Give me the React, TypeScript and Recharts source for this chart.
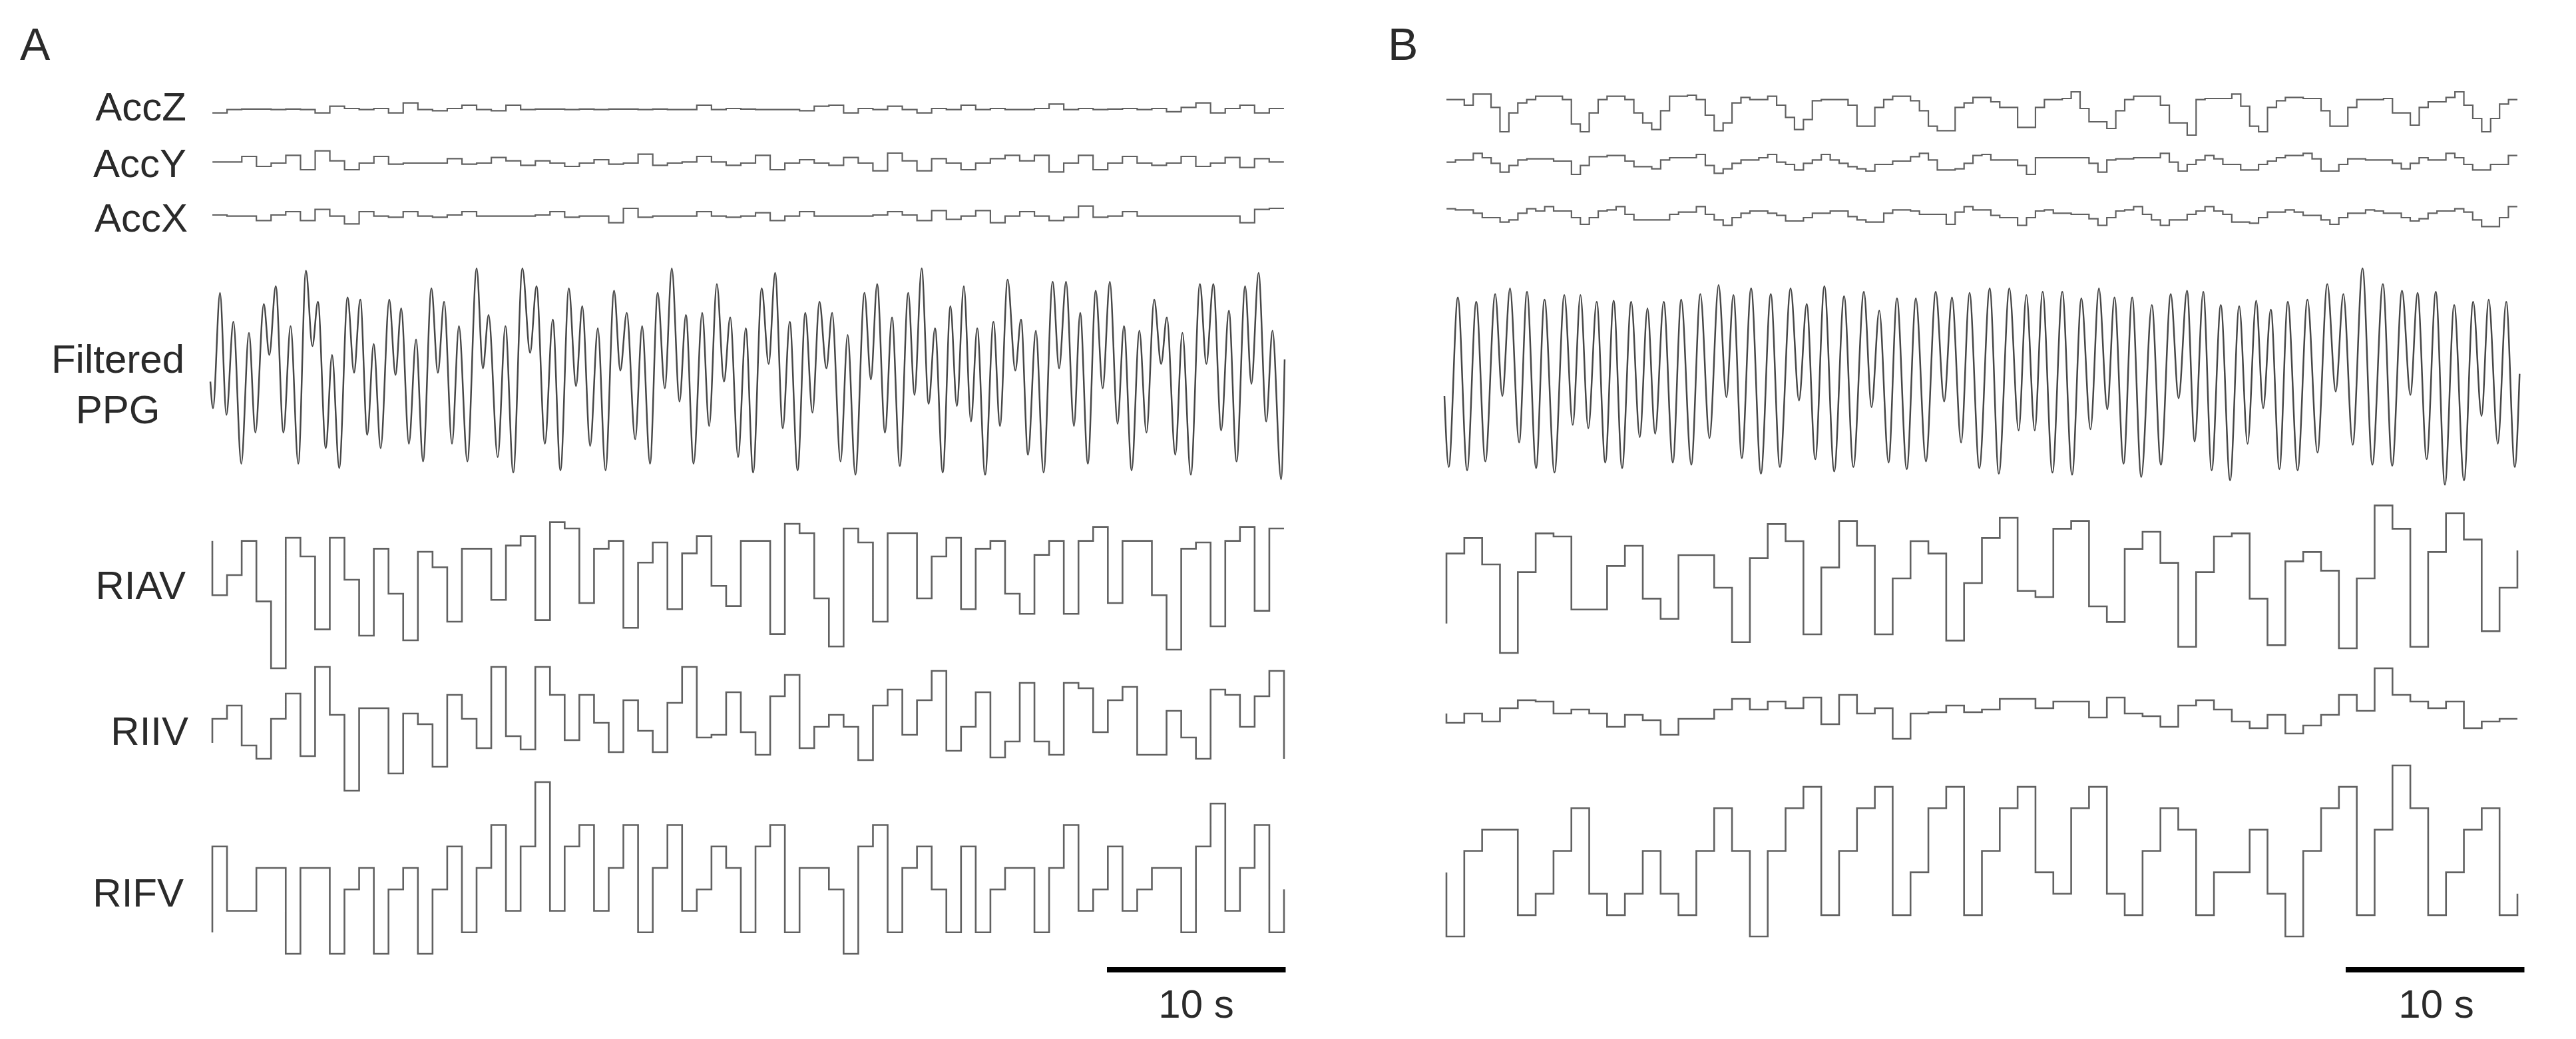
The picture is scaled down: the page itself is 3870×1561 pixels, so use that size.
import { LineChart, Line, XAxis, YAxis } from 'recharts';

// ---- panel A (73 beat-cells, ~0.82 s each) ----
const accZA = [-3, 0, 0.5, 0.5, 0, 0.5, 0, -3, 3, 1, 0, 1, -3, 6, 0, -1, 1, 4, 0, -1, 4, 0, 0.5, 0.5, 0, 0.5, 0, 0.5, 0.5, 0, 0.5, 0, 0, 4, 0, 1, 0.5, 0, 0, 0, -1, 3, 4, -3, 1, 0, 3, 0, -3, 1, 0, 4, 0, 1, 0, 0, 1, 5, 0, 1, 0, 0.5, 1, 0, 1, -2, 2, 6, -3, 1, 4, -3, 1];
const accYA = [0.5, 0.5, 3, -1.5, 0, 3.5, -3, 5.5, 1, -3, 0, 3, -0.5, 0, 0, 0, 2, -0.5, 0, 2.5, 1, -1, 1, 0, -1.5, 0, 1.5, -0.5, 0, 4, -1, 0, 0.5, 3, 0.5, -1, 0, 3.5, -3, 0, 1.5, 0, -1, 2.5, 0, -3.5, 4.5, 1, -3.5, 2, 0, -3, 0, 2, 3.5, 1, 3.5, -4, 0, 3.5, -3, 0, 3, 0, -1, 0, 3, -1.5, 0, 2.5, -2, 2, 0.5];
const accXA = [0.5, 0, 0, -2, 0.5, 2, -2, 3, 0, -3.5, 2, 0, -0.5, 2, 0, -0.5, 0.5, 2, 0, 0, 0, 0, 0.5, 2, -0.5, 0, 0, -3, 3.5, -0.5, 0, 0, 0, 2, 0, -0.5, 0, 1.5, -2, 0, 2, 0, 0, 0, 0, 0.5, 2, 0.5, -2, 2.5, -1.5, 0, 2.5, -3, 0, 2, 0, -2, -0.5, 4.5, -0.5, 0, 2, 0, 0, 0, 0, 0, 0, 0, -3, 3, 3.5];

// filtered PPG, [time s, value] at each peak / trough
const ppgA: [number, number][] = [
  [0, -4], [0.15, -16], [0.54, 36], [0.9, -19], [1.29, 23], [1.73, -41], [2.16, 18], [2.52, -27], [2.99, 31], [3.3, 8],
  [3.66, 39], [4.09, -27], [4.49, 21], [4.92, -41], [5.35, 46], [5.71, 12], [6.02, 32], [6.46, -34], [6.81, 8], [7.21, -43],
  [7.68, 34], [8.04, 0], [8.39, 33], [8.78, -28], [9.14, 13], [9.53, -34], [10.01, 33], [10.36, -1], [10.68, 29], [11.11, -32],
  [11.51, 15], [11.9, -40], [12.37, 38], [12.73, 0], [13.08, 32], [13.52, -32], [13.91, 21], [14.38, -40], [14.9, 47], [15.25, 2],
  [15.57, 26], [16.08, -38], [16.51, 21], [16.95, -45], [17.46, 47], [17.89, 9], [18.25, 39], [18.72, -32], [19.16, 24], [19.59, -44],
  [20.06, 38], [20.46, -6], [20.81, 30], [21.25, -33], [21.68, 20], [22.11, -44], [22.59, 37], [22.94, 1], [23.3, 27], [23.77, -30],
  [24.16, 21], [24.6, -41], [25.03, 36], [25.43, -7], [25.82, 47], [26.25, -13], [26.61, 26], [27.04, -41], [27.52, 27], [27.91, -24],
  [28.34, 40], [28.74, -4], [29.09, 25], [29.53, -38], [29.96, 20], [30.37, -45], [30.85, 38], [31.24, 4], [31.6, 45], [32.03, -25],
  [32.42, 23], [32.86, -44], [33.29, 27], [33.69, -18], [34.08, 32], [34.47, 2], [34.79, 27], [35.26, -40], [35.66, 17], [36.09, -46],
  [36.6, 36], [36.96, -3], [37.31, 40], [37.75, -27], [38.14, 25], [38.58, -42], [39.05, 36], [39.4, -10], [39.8, 47], [40.19, -14],
  [40.55, 20], [40.98, -45], [41.41, 30], [41.77, -15], [42.16, 39], [42.56, -22], [42.91, 20], [43.35, -46], [43.82, 23], [44.18, -24],
  [44.61, 42], [45.04, 1], [45.36, 24], [45.75, -37], [46.19, 19], [46.62, -45], [47.13, 41], [47.49, 2], [47.88, 41], [48.32, -24],
  [48.67, 27], [49.1, -41], [49.54, 37], [49.93, -7], [50.33, 41], [50.76, -23], [51.12, 21], [51.55, -44], [51.98, 19], [52.38, -27],
  [52.81, 33], [53.2, 4], [53.52, 25], [53.99, -37], [54.39, 18], [54.86, -46], [55.37, 40], [55.73, 4], [56.12, 40], [56.56, -26],
  [56.99, 28], [57.42, -40], [57.9, 39], [58.25, -5], [58.65, 45], [59.08, -22], [59.43, 19], [59.91, -48], [60.11, 6],
];

const riavA = [51, 64, 86, 47, 4, 88, 76, 29, 88, 61, 25, 81, 52, 22, 79, 69, 34, 81, 81, 48, 83, 89, 35, 98, 94, 46, 81, 86, 30, 72, 85, 42, 78, 89, 57, 44, 86, 86, 26, 97, 91, 49, 18, 94, 85, 34, 91, 91, 49, 76, 88, 42, 81, 86, 52, 39, 77, 86, 39, 86, 95, 46, 86, 86, 51, 16, 81, 85, 31, 86, 95, 41, 94];
const riivA = [55, 65, 35, 25, 55, 74, 27, 94, 58, 1, 63, 63, 14, 59, 51, 19, 73, 55, 33, 94, 42, 32, 94, 73, 39, 73, 52, 30, 69, 46, 30, 67, 94, 41, 43, 75, 45, 28, 72, 88, 33, 49, 58, 49, 24, 65, 77, 43, 69, 91, 31, 49, 75, 26, 38, 82, 38, 28, 82, 78, 45, 69, 79, 28, 28, 61, 41, 25, 77, 73, 49, 72, 91];
const rifvA = [5, 2, 2, 4, 4, 0, 4, 4, 0, 3, 4, 0, 3, 4, 0, 3, 5, 1, 4, 6, 2, 5, 8, 2, 5, 6, 2, 4, 6, 1, 4, 6, 2, 3, 5, 4, 1, 5, 6, 1, 4, 4, 3, 0, 5, 6, 1, 4, 5, 3, 1, 5, 1, 3, 4, 4, 1, 4, 6, 2, 3, 5, 2, 3, 4, 4, 1, 5, 7, 2, 4, 6, 1];

// ---- panel B (60 beat-cells of ~1 s; acc sampled at half cells) ----
const accZB = [15, 15, 12.5, 17.5, 17.5, 11.5, 0.5, 9, 13.5, 15, 16.5, 16.5, 16.5, 15, 4, 0.5, 9, 15, 16.5, 16.5, 15, 9, 4.5, 1.5, 10, 16.5, 16.5, 17, 15, 8, 1, 4.5, 13.5, 16, 15, 15, 16.5, 12.5, 7, 1.5, 6, 14.5, 15, 15, 15, 12.5, 3, 3, 11.5, 15, 16.5, 16.5, 14.5, 10, 3, 1, 1, 11.5, 13.5, 16, 16, 14, 11.5, 11.5, 2.5, 2.5, 11.5, 15, 15, 15.5, 18.5, 11, 5, 5, 2, 10, 15, 16.5, 16.5, 16.5, 12.5, 4.5, 4.5, -1, 15, 15.5, 15.5, 15.5, 17.5, 12, 3, 0.5, 11.5, 14.5, 16, 16, 15.5, 15.5, 10, 3, 3, 11.5, 15, 15, 15, 15.5, 9, 9, 3.5, 11.5, 14, 14, 16, 18.5, 12.5, 6.5, 0.5, 6.5, 13, 15];
const accYB = [6, 7, 7, 10, 8, 5.5, 1.5, 4.5, 7, 7.5, 7.5, 7.5, 6.5, 6.5, 0.5, 4.5, 8.5, 8.5, 9, 9, 6.5, 4, 4, 3, 7, 8, 8, 8, 9.5, 4.5, 1, 3, 5.5, 7, 7, 8, 9.5, 6, 5, 2.5, 5.5, 7, 9.5, 7, 5.5, 4, 3, 2, 5, 5, 6.5, 6.5, 8.5, 10, 7, 2.5, 2.5, 3, 5.5, 9, 9.5, 7, 7, 7, 4.5, 0.5, 8, 8, 8, 8, 8, 8, 5.5, 1.5, 7, 7.5, 7.5, 8, 8, 8, 10, 6, 2, 5, 7, 9, 7.5, 5, 5, 2.5, 2.5, 5, 6.5, 8, 9, 9, 10, 7.5, 2, 2, 5, 7.5, 7.5, 7, 7, 7, 5.5, 3, 5.5, 8, 7, 7, 10, 8, 5, 2.5, 2.5, 5, 5, 9];
const accXB = [9, 8.5, 8.5, 7, 5, 5, 3, 4, 7, 9, 8, 10, 8, 8, 5, 2, 5, 8, 8.5, 10, 6.5, 4, 4, 4, 4, 6.5, 7.5, 7.5, 10, 6.5, 4, 1.5, 5, 7, 8, 8, 7, 6, 3.5, 3.5, 5, 7, 7, 8, 8, 5.5, 4, 3, 3, 7, 8.5, 8.5, 8, 6.5, 6.5, 6.5, 2, 7.5, 10, 8.5, 8.5, 6, 5, 5, 1.5, 5, 8, 8.5, 7, 7, 6.5, 6.5, 4.5, 1.5, 5, 8, 8.5, 10, 6.5, 4, 1.5, 4, 4, 6.5, 8, 10, 8, 6.5, 3, 3, 2.5, 5, 7.5, 7.5, 8.5, 7.5, 6, 6, 4, 2, 5, 7, 7, 8.5, 8, 7, 7, 5, 3.5, 4.5, 7, 8, 8, 9, 7.5, 4, 1, 1, 5, 10];

const ppgB: [number, number][] = [
  [0, -10.5], [0.24, -42.5], [0.75, 34], [1.27, -44], [1.78, 32], [2.29, -40], [2.84, 35.5], [3.24, -10.5], [3.67, 38], [4.18, -31.5],
  [4.62, 36.5], [5.13, -43], [5.6, 33], [6.16, -45], [6.71, 35], [7.18, -23.5], [7.61, 35], [8.05, -25], [8.52, 32], [9.0, -40.5],
  [9.47, 32.5], [9.94, -43], [10.45, 32], [10.93, -29], [11.36, 29], [11.79, -27.5], [12.27, 32], [12.78, -40.5], [13.25, 33], [13.81, -41.5],
  [14.32, 35.5], [14.83, -29.5], [15.34, 39.5], [15.78, -11], [16.17, 35], [16.64, -38.5], [17.16, 38], [17.71, -45.5], [18.26, 35.5], [18.77, -42.5],
  [19.37, 38], [19.84, -12.5], [20.27, 31], [20.75, -39], [21.26, 39], [21.81, -44.5], [22.36, 34.5], [22.88, -42.5], [23.47, 36.5], [23.9, -15.5],
  [24.33, 28], [24.85, -40.5], [25.32, 33.5], [25.87, -43.5], [26.38, 33.5], [26.94, -40], [27.49, 36.5], [27.96, -13], [28.4, 34], [28.91, -31.5],
  [29.38, 36], [29.93, -43], [30.51, 38], [31.02, -45.5], [31.61, 38], [32.13, -26], [32.56, 35], [33.03, -26], [33.47, 36.5], [34.02, -45],
  [34.57, 36.5], [35.12, -46], [35.64, 33.5], [36.15, -25.5], [36.62, 38], [37.09, -16.5], [37.49, 34], [38.0, -41], [38.48, 34], [38.99, -47],
  [39.58, 30.5], [40.09, -41.5], [40.64, 35.5], [41.08, -11.5], [41.55, 37], [41.98, -31], [42.46, 36.5], [42.93, -44], [43.44, 30.5], [43.96, -48.5],
  [44.47, 30], [44.94, -32], [45.42, 32.5], [45.81, -16], [46.24, 28.5], [46.72, -43.5], [47.19, 32], [47.74, -44], [48.29, 33], [48.85, -36],
  [49.4, 40], [49.87, -8.5], [50.3, 35.5], [50.82, -32.5], [51.37, 47], [51.92, -41.5], [52.51, 40], [53.03, -42], [53.58, 37], [54.05, -10],
  [54.45, 36], [54.96, -39], [55.47, 36.5], [55.98, -50.5], [56.5, 30.5], [57.05, -48.5], [57.56, 32], [58.03, -19.5], [58.43, 33], [58.94, -32],
  [59.41, 32], [59.89, -42.5], [60.16, -0.5],
];

const riavB = [78, 88, 71, 14, 66, 91, 89, 42, 42, 70, 83, 49, 36, 77, 77, 56, 21, 75, 97, 86, 26, 69, 99, 83, 26, 62, 86, 78, 22, 59, 88, 101, 54, 50, 94, 99, 44, 34, 81, 92, 72, 18, 66, 89, 91, 49, 19, 73, 79, 67, 17, 62, 109, 94, 18, 79, 104, 87, 28, 56];
const riivB = [52, 59, 53, 63, 69, 68, 59, 62, 59, 49, 58, 54, 43, 55, 55, 62, 70, 62, 68, 63, 71, 51, 73, 59, 63, 40, 59, 60, 65, 60, 62, 70, 70, 63, 68, 68, 56, 71, 59, 57, 49, 65, 69, 62, 53, 48, 58, 44, 50, 58, 73, 61, 93, 73, 68, 63, 68, 48, 53, 55];
const rifvB = [0, 4, 5, 5, 1, 2, 4, 6, 2, 1, 2, 4, 2, 1, 4, 6, 4, 0, 4, 6, 7, 1, 4, 6, 7, 1, 3, 6, 7, 1, 4, 6, 7, 3, 2, 6, 7, 2, 1, 4, 6, 5, 1, 3, 3, 5, 2, 0, 4, 6, 7, 1, 5, 8, 6, 1, 3, 5, 6, 1];

const traceLabels = ['AccZ', 'AccY', 'AccX', 'Filtered', 'PPG', 'RIAV', 'RIIV', 'RIFV'];

type Pt = { x: number; v: number };

function steps(values: number[], start?: number, end?: number): Pt[] {
  const pts: Pt[] = [];
  if (start !== undefined) pts.push({ x: 0, v: start });
  values.forEach((v, i) => pts.push({ x: i, v }));
  pts.push({ x: values.length, v: values[values.length - 1] });
  if (end !== undefined) pts.push({ x: values.length, v: end });
  return pts;
}

const pairs = (p: [number, number][]): Pt[] => p.map(([x, v]) => ({ x, v }));

const PAD = 10;

function Trace({ data, left, top, width, height, xDomain, yDomain, curve = 'stepAfter', stroke = '#616161', strokeWidth = 2.6 }: any) {
  return (
    <div style={{ position: 'absolute', left: left - PAD, top: top - PAD }}>
      <LineChart width={width + 2 * PAD} height={height + 2 * PAD} data={data}
        margin={{ top: PAD, right: PAD, bottom: PAD, left: PAD }}>
        <XAxis dataKey="x" type="number" domain={xDomain} hide />
        <YAxis type="number" domain={yDomain} hide />
        <Line dataKey="v" type={curve} stroke={stroke} strokeWidth={strokeWidth}
          dot={false} isAnimationActive={false} />
      </LineChart>
    </div>
  );
}

const PX_PER_S = 26.85;

function ScaleBar({ left, top }: { left: number; top: number }) {
  return (
    <Trace data={[{ x: 0, v: 0 }, { x: 10, v: 0 }]} left={left} top={top - 4} width={10 * PX_PER_S} height={8}
      xDomain={[0, 10]} yDomain={[-1, 1]} curve="linear" stroke="#000" strokeWidth={8} />
  );
}

export default function App() {
  const aL = 319, aW = 1610, bL = 2173, bW = 1609;
  const font = '"Liberation Sans", Arial, sans-serif';
  return (
    <div style={{ position: 'absolute', left: 0, top: 0, width: 3870, height: 1561, background: '#fff', overflow: 'hidden' }}>
      {/* panel A */}
      <Trace data={steps(accZA)} left={aL} top={153.3} width={aW} height={18.3} xDomain={[0, 73]} yDomain={[-4, 7]} strokeWidth={2.2} />
      <Trace data={steps(accYA)} left={aL} top={225} width={aW} height={36.7} xDomain={[0, 73]} yDomain={[-5, 6]} strokeWidth={2.2} />
      <Trace data={steps(accXA)} left={aL} top={308.3} width={aW} height={30} xDomain={[0, 73]} yDomain={[-4, 5]} strokeWidth={2.2} />
      <Trace data={pairs(ppgA)} left={316} top={400} width={60.11 * PX_PER_S} height={333.3} xDomain={[0, 60.11]} yDomain={[-52, 48]}
        curve="monotone" stroke="#474747" strokeWidth={2.5} />
      <Trace data={steps(riavA, 86)} left={aL} top={780} width={aW} height={233.3} xDomain={[0, 73]} yDomain={[0, 100]} />
      <Trace data={steps(riivA, 37, 25)} left={aL} top={990} width={aW} height={200} xDomain={[0, 73]} yDomain={[0, 100]} />
      <Trace data={steps(rifvA, 1, 3)} left={aL} top={1175} width={aW} height={258} xDomain={[0, 73]} yDomain={[0, 8]} />
      <ScaleBar left={1663} top={1457} />

      {/* panel B */}
      <Trace data={steps(accZB)} left={bL} top={133.3} width={bW} height={70} xDomain={[0, 120]} yDomain={[-1, 20]} strokeWidth={2.2} />
      <Trace data={steps(accYB)} left={bL} top={226.7} width={bW} height={36.7} xDomain={[0, 120]} yDomain={[0, 11]} strokeWidth={2.2} />
      <Trace data={steps(accXB)} left={bL} top={306.7} width={bW} height={36.7} xDomain={[0, 120]} yDomain={[0, 11]} strokeWidth={2.2} />
      <Trace data={pairs(ppgB)} left={2170} top={400} width={60.16 * PX_PER_S} height={333.3} xDomain={[0, 60.16]} yDomain={[-52, 48]}
        curve="monotone" stroke="#474747" strokeWidth={2.5} />
      <Trace data={steps(riavB, 33, 80)} left={bL} top={756.7} width={bW} height={256.7} xDomain={[0, 60]} yDomain={[0, 110]} />
      <Trace data={steps(riivB, 59)} left={bL} top={990} width={bW} height={200} xDomain={[0, 60]} yDomain={[0, 100]} />
      <Trace data={steps(rifvB, 3, 2)} left={bL} top={1150} width={bW} height={257} xDomain={[0, 60]} yDomain={[0, 8]} />
      <ScaleBar left={3524} top={1457} />

      <svg width={3870} height={1561} style={{ position: 'absolute', left: 0, top: 0, pointerEvents: 'none' }}
        fontFamily={font} fill="#2a2a2a">
        <text x={30} y={90} fontSize={68}>A</text>
        <text x={2085} y={90} fontSize={68}>B</text>
        <text x={280} y={181} fontSize={60} textAnchor="end">{traceLabels[0]}</text>
        <text x={280} y={266} fontSize={60} textAnchor="end">{traceLabels[1]}</text>
        <text x={282} y={348} fontSize={60} textAnchor="end">{traceLabels[2]}</text>
        <text x={177} y={560} fontSize={60} textAnchor="middle">{traceLabels[3]}</text>
        <text x={177} y={636} fontSize={60} textAnchor="middle">{traceLabels[4]}</text>
        <text x={279} y={900} fontSize={60} textAnchor="end">{traceLabels[5]}</text>
        <text x={283} y={1119} fontSize={60} textAnchor="end">{traceLabels[6]}</text>
        <text x={276} y={1362} fontSize={60} textAnchor="end">{traceLabels[7]}</text>
        <text x={1797} y={1529} fontSize={60} textAnchor="middle">10 s</text>
        <text x={3660} y={1529} fontSize={60} textAnchor="middle">10 s</text>
      </svg>
    </div>
  );
}
